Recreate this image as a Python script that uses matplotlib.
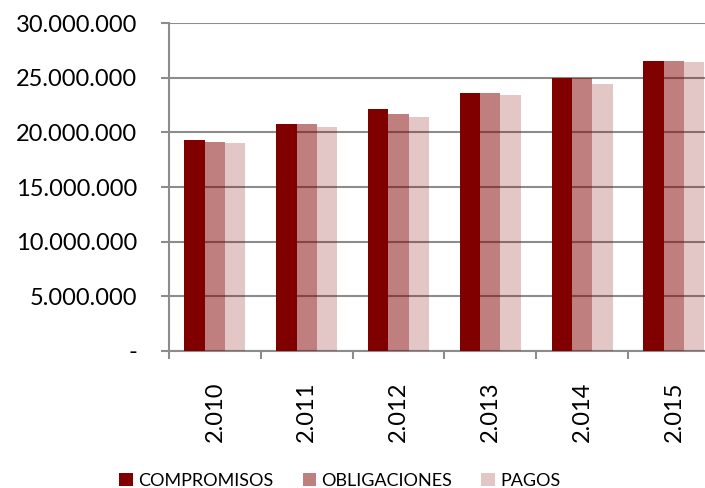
import matplotlib
matplotlib.use("Agg")
import matplotlib.pyplot as plt
import numpy as np
from matplotlib.ticker import FuncFormatter, FixedLocator

plt.rcParams['font.family'] = ['Lato', 'DejaVu Sans']

years = ["2.010", "2.011", "2.012", "2.013", "2.014", "2.015"]
compromisos = [19340000, 20780000, 22130000, 23620000, 24970000, 26530000]
obligaciones = [19100000, 20750000, 21700000, 23620000, 24970000, 26530000]
pagos = [19070000, 20480000, 21450000, 23410000, 24420000, 26430000]
series_names = ["COMPROMISOS", "OBLIGACIONES", "PAGOS"]
base_color = "#800000"
alphas = [1.0, 0.5, 0.22]

fig = plt.figure(figsize=(7.05, 4.88), dpi=100)
ax = fig.add_axes([169/705, 137.3/488, 550.8/705, 327.4/488])

x = np.arange(len(years))
w = 0.222
for i, (vals, name, a) in enumerate(zip([compromisos, obligaciones, pagos], series_names, alphas)):
    ax.bar(x + (i - 1) * w, vals, width=w, color=base_color, alpha=a, label=name, zorder=3, linewidth=0)

ax.set_xlim(-0.5, len(years) - 0.5)
ax.set_ylim(0, 30000000)
ax.set_yticks(np.arange(0, 30000001, 5000000))

def fmt(v, pos):
    if v == 0:
        return "-"
    return f"{int(v):,}".replace(",", ".")
ax.yaxis.set_major_formatter(FuncFormatter(fmt))

ax.grid(axis='y', color='#8c8c8c', linewidth=1.5, zorder=0)
ax.set_axisbelow(True)

for s in ['top', 'right']:
    ax.spines[s].set_visible(False)
for s in ['left', 'bottom']:
    ax.spines[s].set_color('#8c8c8c')
    ax.spines[s].set_linewidth(1.5)

ax.tick_params(axis='y', length=6, width=1.5, color='#8c8c8c', pad=17, labelsize=17)
ax.set_xticks(x)
ax.set_xticklabels(years, rotation=90, fontsize=17)
ax.tick_params(axis='x', which='major', length=0, pad=22)
ax.xaxis.set_minor_locator(FixedLocator(np.arange(-0.5, len(years) + 0.5, 1)))
ax.tick_params(axis='x', which='minor', length=6, width=1.5, color='#8c8c8c')

leg = fig.legend(loc='center', bbox_to_anchor=(340/705, 1 - 481/488), ncol=3, frameon=False,
                 fontsize=13, handlelength=0.75, handleheight=0.75, handletextpad=0.3,
                 columnspacing=1.6, borderaxespad=0)

fig.savefig("out.png", dpi=100)
